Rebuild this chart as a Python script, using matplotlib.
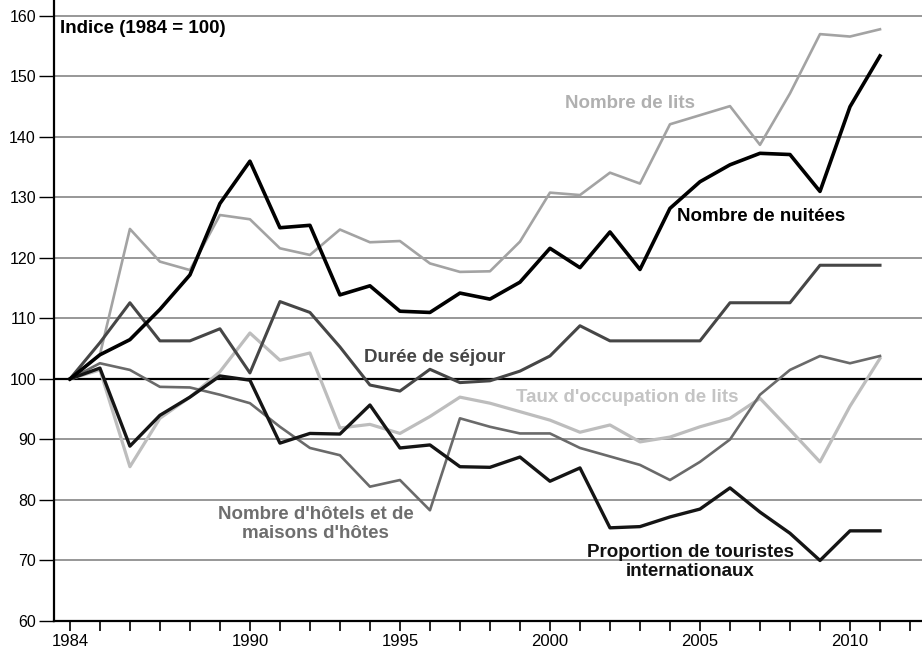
import numpy as np
import matplotlib
matplotlib.use("Agg")
import matplotlib.pyplot as plt

plt.rcParams['font.family'] = ['Liberation Sans', 'DejaVu Sans']

years = list(range(1984, 2012))

nuitees = [100, 104, 106.5, 111.5, 117.2, 129, 136, 125, 125.4, 113.9, 115.4, 111.2, 111,
           114.2, 113.2, 116, 121.6, 118.4, 124.3, 118.1, 128.2, 132.6, 135.4, 137.3, 137.1,
           131, 145, 153.4]
lits = [100, 104, 124.8, 119.4, 118, 127.1, 126.4, 121.6, 120.5, 124.7, 122.6, 122.8, 119.1,
        117.7, 117.8, 122.7, 130.8, 130.4, 134.1, 132.3, 142.1, 143.6, 145.1, 138.7, 147.2,
        157, 156.6, 157.8]
duree = [100, 106, 112.6, 106.3, 106.3, 108.3, 101, 112.8, 111, 105.3, 99, 98, 101.6, 99.4,
         99.7, 101.3, 103.8, 108.8, 106.3, 106.3, 106.3, 106.3, 112.6, 112.6, 112.6, 118.8,
         118.8, 118.8]
taux = [100, 101.5, 85.5, 93.5, 97, 101.2, 107.6, 103.1, 104.3, 91.9, 92.5, 91, 93.8, 97,
        96, 94.6, 93.2, 91.2, 92.4, 89.6, 90.4, 92.1, 93.5, 96.8, 91.6, 86.3, 95.5, 103.4]
hotels = [100, 102.6, 101.5, 98.7, 98.6, 97.4, 96, 92.1, 88.6, 87.4, 82.2, 83.3, 78.3, 93.5,
          92.1, 91, 91, 88.6, 87.2, 85.8, 83.3, 86.3, 90, 97.4, 101.5, 103.8, 102.6, 103.8]
proportion = [100, 101.8, 88.9, 94, 97, 100.5, 99.8, 89.4, 91, 90.9, 95.7, 88.6, 89.1, 85.5,
              85.4, 87.1, 83.1, 85.3, 75.4, 75.6, 77.2, 78.5, 82, 78, 74.5, 70, 74.9, 74.9]

yticks = list(range(60, 161, 10))
xlabels = [1984, 1990, 1995, 2000, 2005, 2010]

fig = plt.figure(figsize=(9.22, 6.53), dpi=100)
ax = fig.add_axes([54 / 922, 32 / 653, 1 - 54 / 922, 1 - 32 / 653])

# horizontal grid
for v in yticks[1:]:
    if v == 100:
        ax.axhline(v, color='black', lw=1.6, zorder=1)
    else:
        ax.axhline(v, color='#858585', lw=1.2, zorder=1)

ax.plot(years, lits, color='#a3a3a3', lw=1.9, zorder=3)
ax.plot(years, taux, color='#bdbdbd', lw=2.3, zorder=3)
ax.plot(years, hotels, color='#6a6a6a', lw=1.9, zorder=4)
ax.plot(years, duree, color='#464646', lw=2.2, zorder=4)
ax.plot(years, proportion, color='#151515', lw=2.4, zorder=5)
ax.plot(years, nuitees, color='#000000', lw=2.6, zorder=6)

ax.set_xlim(1983.47, 2012.4)
ax.set_ylim(60, 162.64)

ax.set_yticks(yticks)
ax.set_yticklabels([str(v) for v in yticks], fontsize=11.5)
ax.set_xticks(list(range(1984, 2013)))
ax.set_xticklabels([str(y) if y in xlabels else '' for y in range(1984, 2013)], fontsize=12)
ax.tick_params(axis='y', direction='out', length=11, width=1, pad=2)
ax.tick_params(axis='x', direction='out', length=7, width=1.2, pad=2)

ax.spines['top'].set_visible(False)
ax.spines['right'].set_visible(False)
ax.spines['left'].set_linewidth(1.6)
ax.spines['bottom'].set_linewidth(1.6)

fs = 13.5
ax.text(1983.67, 157.85, 'Indice (1984 = 100)', fontsize=fs, fontweight='bold',
        ha='left', va='center', color='black')
ax.text(2002.67, 145.6, 'Nombre de lits', fontsize=fs, fontweight='bold',
        ha='center', va='center', color='#b0b0b0')
ax.text(2007.05, 126.8, 'Nombre de nuitées', fontsize=fs, fontweight='bold',
        ha='center', va='center', color='black')
ax.text(1996.17, 103.6, 'Durée de séjour', fontsize=fs, fontweight='bold',
        ha='center', va='center', color='#454545')
ax.text(2002.58, 96.9, "Taux d'occupation de lits", fontsize=fs, fontweight='bold',
        ha='center', va='center', color='#c4c4c4')
ax.text(1992.2, 76.1, "Nombre d'hôtels et de\nmaisons d'hôtes", fontsize=fs,
        fontweight='bold', ha='center', va='center', color='#6e6e6e', linespacing=1.15)
ax.text(2004.67, 69.75, 'Proportion de touristes\ninternationaux', fontsize=fs,
        fontweight='bold', ha='center', va='center', color='#111111', linespacing=1.15)

fig.savefig('out.png', dpi=100)
